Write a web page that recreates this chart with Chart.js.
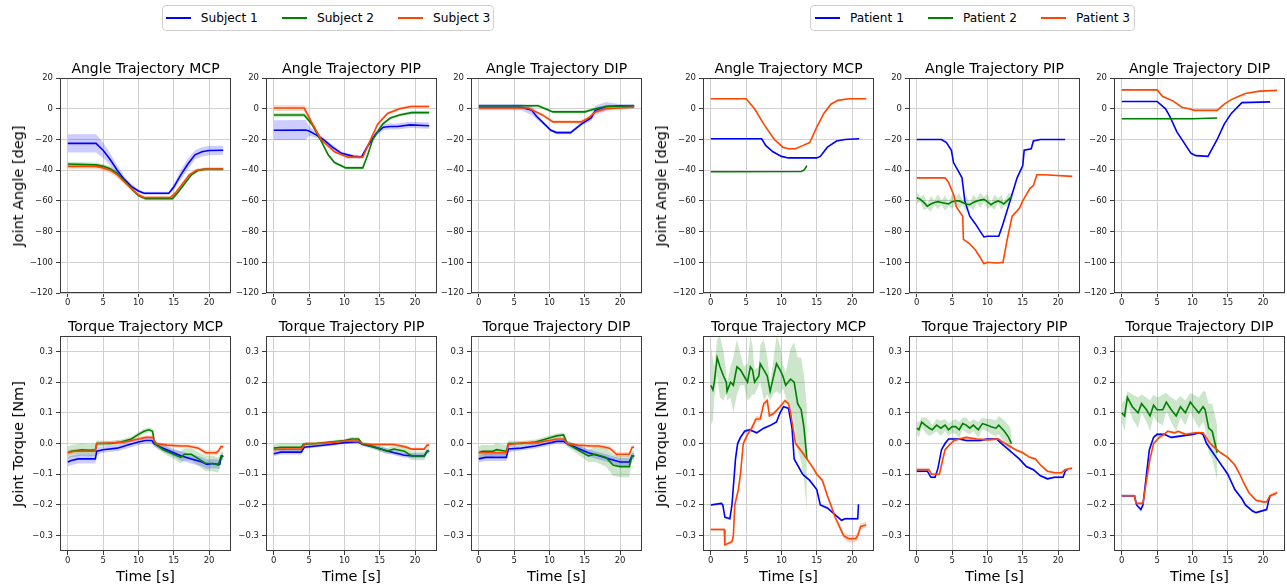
<!DOCTYPE html>
<html>
<head>
<meta charset="utf-8">
<script src="https://cdn.jsdelivr.net/npm/chart.js@4.4.0/dist/chart.umd.min.js"></script>
<style>
  body { margin: 0; background: #fff; width: 1287px; height: 585px; overflow: hidden; position: relative; font-family: "DejaVu Sans", sans-serif; }
  .plot { position: absolute; }
  .title { position: absolute; font-size: 14px; color: #000; white-space: nowrap; transform: translate(-50%, -50%); }
  .ylabel { position: absolute; font-size: 14.5px; color: #000; white-space: nowrap; transform: translate(-50%, -50%) rotate(-90deg); }
  .xlabel { position: absolute; font-size: 14.5px; color: #000; white-space: nowrap; transform: translate(-50%, -50%); }
  .legend { position: absolute; top: 5px; height: 26px; border: 1px solid #d0d0d0; border-radius: 4px; box-sizing: border-box; display: flex; align-items: center; justify-content: center; font-size: 12.2px; white-space: nowrap; }
  .legend span.swatch { display: inline-block; width: 25px; height: 2px; margin-right: 10px; }
  .legend span.lab { margin-right: 24px; }
  .legend span.lab:last-child { margin-right: 0; }
</style>
</head>
<body>
<div id="root"></div>
<script>
const timeTicks = [0, 5, 10, 15, 20];
const angleTicks = [-120, -100, -80, -60, -40, -20, 0, 20];
const torqueTicks = [-0.3, -0.2, -0.1, 0.0, 0.1, 0.2, 0.3];
const groupNames = [['Subject 1', 'Subject 2', 'Subject 3'], ['Patient 1', 'Patient 2', 'Patient 3']];
const jointNames = ['MCP', 'PIP', 'DIP'];
const lineColors = ['#0000ff', '#008000', '#ff4500'];
const bandColors = ['rgba(0,0,255,0.2)', 'rgba(0,128,0,0.2)', 'rgba(255,69,0,0.2)'];

// points are [time, mean, spread]
const subjAngleMcp1 = [[0,-22.5,6],[4,-22.5,6],[5,-27,5],[6,-33,4],[7,-40,3],[8,-46,2],[9,-50.5,1.5],[10,-53.5,1],[10.8,-55,1],[14.3,-55,1],[15,-51,2],[16,-43,3],[17,-36,3.5],[18,-30,3],[19,-28,3],[20,-27.2,3],[22,-27,3]];
const subjAngleMcp2 = [[0,-36,1.5],[4,-36.5,1.5],[5,-37.5,1.5],[6,-39,1.5],[7,-42,1.5],[8,-47,1.5],[9,-52,1],[10,-56.5,1],[11,-58.5,1],[14.8,-58.5,1],[15.5,-55,1],[16.5,-49,1],[17.5,-43,1],[18.5,-40,1],[19.5,-39.3,1],[22,-39.3,1]];
const subjAngleMcp3 = [[0,-37.5,1.5],[4,-37.5,1.5],[5,-38.5,2],[6,-40,2],[7,-43,2],[8,-47.5,1.5],[9,-52,1],[10,-56,1],[10.8,-57.8,1],[14.5,-57.8,1],[15.2,-55,1],[16.2,-49,1],[17.2,-43,1],[18.2,-40,1],[19.5,-39.3,1],[22,-39.3,1]];

const subjAnglePip1 = [[0,-14,6.5],[4.5,-13.8,6.5],[5,-14.5,3],[6,-17,2],[7,-20,1.5],[8.3,-25,1.5],[9.6,-29,1],[11.3,-31,1],[12.4,-31.5,1],[13.2,-25,1.5],[14.5,-16,2],[15.5,-12,2],[16.5,-11.5,2],[17.5,-11.5,2],[19.3,-10.5,2],[22,-11,2]];
const subjAnglePip2 = [[0,-4,1.5],[4.3,-4,1.5],[5.4,-10,1.5],[6.6,-20,1.5],[7.7,-30,1],[8.6,-35,1],[10.2,-38.5,1],[12.6,-38.5,1],[13.3,-30,1],[14,-20,1],[15.4,-10,1],[16.5,-6,1],[17.8,-4,1],[19.5,-2.5,1],[22,-2.5,1]];
const subjAnglePip3 = [[0,0.5,2],[4.3,0.5,2],[5.5,-10,1.5],[6.7,-20,1.5],[8.6,-28,1],[10.5,-31.5,1],[12.6,-31.5,1],[13.7,-20,1],[14.7,-10,1],[16.1,-3,1],[17.8,0,1],[19.4,1.5,1],[22,1.5,1]];

const subjAngleDip1 = [[0,1,2],[6,1,2],[7.5,-1,3],[8.2,-5,2],[9.3,-10,1],[10.2,-14,1],[11,-15.5,1],[13,-15.5,1],[14.5,-10,1],[15.9,-6,2],[16.5,-1,3],[18,1.5,3],[20,2,1],[22,2,1]];
const subjAngleDip2 = [[0,2,1],[8.4,2,1],[10.5,-2,1],[15,-2,1],[16.5,0,1],[18,1.5,1],[22,2,1]];
const subjAngleDip3 = [[0,0.5,1],[7,0.5,1],[9,-4,1],[10.5,-8.5,1],[14.5,-8.5,1],[15.5,-6,1],[16.5,-2,1],[18,0,1],[22,1,1]];

const patAngleMcp1 = [[0,-19.5,0.3],[7.2,-19.5,0.3],[7.8,-24,0.3],[8.8,-28,0.3],[10,-31,0.3],[11,-32,0.3],[15,-32,0.3],[15.5,-31,0.3],[16.5,-25,0.3],[17.8,-21,0.3],[19,-20,0.3],[21,-19.5,0.3]];
const patAngleMcp2 = [[0,-41,0.3],[12.8,-40.8,0.3],[13.2,-40,0.5],[13.6,-37,1]];
const patAngleMcp3 = [[0,6.5,0.3],[5,6.5,0.3],[6.2,0,0.3],[7.5,-10,0.3],[9,-20,0.3],[10.2,-25,0.3],[11,-26,0.3],[12,-26,0.3],[13,-24,0.3],[14,-22,0.3],[15,-12,0.3],[16,-3,0.3],[17,3,0.3],[18,5.5,0.3],[19.5,6.5,0.3],[22,6.5,0.3]];

const patAnglePip1 = [[0,-20,0.3],[3.5,-20,0.3],[4.2,-22,0.3],[4.9,-27,0.3],[5.2,-35,0.3],[5.8,-40,0.3],[6.4,-45,0.3],[6.8,-60,0.3],[7.5,-70,0.3],[8.3,-75,0.3],[9,-80,0.3],[9.5,-83.5,0.3],[10,-83,0.3],[11.6,-83,0.3],[12.2,-75,0.3],[13.2,-60,0.3],[14.2,-45,0.3],[15,-37,0.3],[15.2,-27,0.3],[16.2,-26,0.3],[16.5,-21,0.3],[17.5,-20,0.3],[21,-20,0.3]];
const patAnglePip2 = [[0,-58,4],[0.5,-59,1.5],[1,-61,5],[1.5,-63.5,1.5],[2,-62,5],[2.5,-61,1.5],[3,-60.5,5],[3.5,-61,1.5],[4,-61.5,5],[4.5,-62,1.5],[5,-60.5,5],[5.5,-60,1.5],[6,-60,5],[6.5,-61,1.5],[7,-62,5],[7.5,-62.5,1.5],[8,-61,5],[8.5,-60,1.5],[9,-59.5,5],[9.5,-59,1.5],[10,-60.5,5],[10.5,-62.5,1.5],[11,-61,5],[11.5,-60,1.5],[12,-61,5],[12.3,-62,1.5],[13,-59,4],[13.5,-57,2]];
const patAnglePip3 = [[0,-45,0.3],[4,-45,0.3],[4.5,-48,0.3],[5.3,-57,0.3],[5.6,-64,0.3],[6.5,-70,0.3],[6.6,-85,0.3],[7.5,-88,0.3],[8.3,-92,0.3],[9,-97,0.3],[9.5,-101,0.3],[10,-100,0.3],[11.5,-100.5,0.3],[12.2,-100,0.3],[12.8,-85,0.3],[13.5,-70,0.3],[14.5,-65,0.3],[15,-60,0.3],[16,-52,0.3],[16.5,-50,0.3],[17,-43,0.3],[18,-43,0.3],[22,-44,0.3]];

const patAngleDip1 = [[0,4.8,0.3],[5,4.8,0.3],[6.2,0,0.3],[6.8,-5,0.3],[7.8,-15,0.3],[8.8,-22,0.3],[9.8,-29,0.3],[10.5,-30.5,0.3],[12.2,-31,0.3],[13.5,-20,0.3],[14.5,-10,0.3],[15.5,-3,0.3],[17,4,0.3],[21,4.5,0.3]];
const patAngleDip2 = [[0,-6.5,0.3],[10,-6.5,0.3],[13.5,-6,0.3]];
const patAngleDip3 = [[0,12.3,0.3],[5,12.3,0.3],[5.8,8,0.3],[7.3,5,0.3],[8.5,1,0.3],[9.5,0,0.3],[10.3,-1,0.3],[13.5,-1,0.3],[14.5,3,0.3],[15.5,6,0.3],[16.5,8,0.3],[17.5,10,0.3],[19.5,11.5,0.3],[22,12,0.3]];

const subjTorqueMcp1 = [[0,-0.06,0.015],[0.5,-0.055,0.015],[1.5,-0.05,0.015],[3.9,-0.05,0.015],[4.1,-0.025,0.012],[5,-0.02,0.01],[7,-0.015,0.01],[8.5,-0.005,0.01],[10,0.005,0.01],[11,0.01,0.01],[11.9,0.01,0.01],[12.2,0,0.01],[13,-0.01,0.01],[14,-0.02,0.012],[15,-0.03,0.012],[16,-0.04,0.015],[17.5,-0.05,0.015],[19,-0.06,0.015],[19.7,-0.068,0.015],[20.5,-0.065,0.015],[21.5,-0.068,0.015],[21.7,-0.045,0.01],[22,-0.04,0.01]];
const subjTorqueMcp2 = [[0,-0.03,0.02],[0.5,-0.025,0.02],[2,-0.02,0.02],[3,-0.022,0.02],[3.9,-0.02,0.02],[4.1,0,0.01],[6,0,0.008],[7.5,0.005,0.008],[9,0.015,0.008],[10,0.03,0.008],[10.8,0.04,0.008],[11.5,0.045,0.008],[12,0.04,0.008],[12.3,0,0.01],[13.5,-0.02,0.012],[15,-0.035,0.015],[16,-0.045,0.02],[16.5,-0.035,0.02],[17.5,-0.035,0.02],[18.5,-0.05,0.022],[19.5,-0.065,0.025],[20.5,-0.065,0.025],[21.3,-0.07,0.025],[21.7,-0.04,0.015],[22,-0.04,0.015]];
const subjTorqueMcp3 = [[0,-0.03,0.008],[1,-0.025,0.008],[3.9,-0.025,0.008],[4.1,0,0.006],[6,0.002,0.006],[8,0.005,0.006],[10,0.015,0.006],[11,0.02,0.006],[12,0.02,0.006],[12.5,0,0.006],[14,-0.005,0.006],[16,-0.008,0.006],[17,-0.008,0.006],[18.5,-0.015,0.006],[19.5,-0.03,0.008],[21,-0.03,0.008],[21.3,-0.025,0.008],[21.7,-0.01,0.006],[22,-0.01,0.006]];

const subjTorquePip1 = [[0,-0.033,0.008],[1,-0.028,0.008],[3.9,-0.028,0.008],[4.3,-0.012,0.006],[6,-0.008,0.005],[8,-0.003,0.005],[10,0.003,0.005],[11.5,0.005,0.005],[12,0.005,0.005],[12.5,-0.002,0.005],[14,-0.01,0.006],[15.5,-0.02,0.008],[17,-0.03,0.008],[18.5,-0.038,0.008],[20,-0.04,0.008],[21.3,-0.04,0.008],[21.7,-0.025,0.006],[22,-0.025,0.006]];
const subjTorquePip2 = [[0,-0.015,0.012],[1,-0.012,0.012],[3.9,-0.012,0.012],[4.2,-0.002,0.006],[6,0,0.005],[8,0.005,0.005],[10,0.01,0.005],[11,0.015,0.006],[12,0.015,0.006],[12.5,0,0.006],[14,-0.01,0.008],[15.5,-0.02,0.01],[16,-0.025,0.01],[17,-0.018,0.012],[18.5,-0.025,0.012],[19.5,-0.04,0.014],[21.3,-0.04,0.014],[21.7,-0.025,0.01],[22,-0.025,0.01]];
const subjTorquePip3 = [[0,-0.02,0.005],[1,-0.018,0.005],[3.9,-0.018,0.005],[4.5,0,0.004],[6,0,0.004],[8,0.003,0.004],[10,0.008,0.004],[12,0.008,0.004],[12.5,0,0.004],[14,-0.003,0.004],[17,-0.003,0.004],[18.5,-0.01,0.005],[19.5,-0.018,0.005],[21.3,-0.018,0.005],[21.7,-0.005,0.004],[22,-0.005,0.004]];

const subjTorqueDip1 = [[0,-0.05,0.012],[1,-0.045,0.012],[3.9,-0.045,0.012],[4.2,-0.018,0.01],[6,-0.015,0.008],[8,-0.008,0.008],[10,0.002,0.008],[11,0.007,0.008],[12,0.007,0.008],[12.5,0,0.008],[14,-0.015,0.01],[15.5,-0.03,0.012],[17,-0.04,0.012],[18.5,-0.05,0.012],[20,-0.06,0.012],[21.3,-0.06,0.012],[21.7,-0.04,0.01],[22,-0.04,0.01]];
const subjTorqueDip2 = [[0,-0.03,0.02],[0.5,-0.025,0.02],[2,-0.025,0.02],[2.5,-0.02,0.02],[3.9,-0.025,0.02],[4.2,0,0.01],[6,0,0.008],[8,0.005,0.008],[9.5,0.015,0.008],[11,0.025,0.008],[12,0.028,0.008],[12.5,0,0.01],[14,-0.02,0.015],[15.5,-0.04,0.02],[16.5,-0.035,0.025],[18,-0.045,0.03],[19,-0.07,0.035],[20,-0.075,0.035],[21.3,-0.075,0.035],[21.7,-0.04,0.015],[22,-0.04,0.015]];
const subjTorqueDip3 = [[0,-0.03,0.008],[3.9,-0.03,0.008],[4.2,-0.003,0.006],[6,0.002,0.006],[8,0.003,0.006],[10,0.01,0.006],[11,0.015,0.006],[12,0.015,0.006],[12.5,0,0.006],[14,-0.005,0.006],[16,-0.008,0.006],[17,-0.008,0.006],[18.5,-0.015,0.008],[19.5,-0.035,0.008],[21.3,-0.035,0.008],[21.7,-0.012,0.006],[22,-0.012,0.006]];

const patTorqueMcp1 = [[0,-0.2,0.004],[1.5,-0.195,0.004],[1.7,-0.2,0.004],[2,-0.24,0.004],[2.7,-0.245,0.004],[3,-0.2,0.004],[3.5,-0.05,0.006],[3.8,0,0.008],[4.2,0.02,0.006],[4.8,0.04,0.006],[5.5,0.045,0.004],[6.5,0.035,0.004],[7.5,0.05,0.004],[8.5,0.06,0.004],[9.3,0.07,0.004],[9.8,0.1,0.004],[10.3,0.12,0.004],[11,0.115,0.004],[11.5,0.05,0.004],[11.8,-0.05,0.004],[13,-0.1,0.004],[14,-0.12,0.004],[15,-0.15,0.004],[15.5,-0.2,0.004],[16.5,-0.21,0.004],[17.5,-0.23,0.004],[18.5,-0.25,0.004],[19,-0.245,0.004],[20.8,-0.245,0.004],[20.9,-0.2,0.004],[21,-0.2,0.004]];
const patTorqueMcp2 = [[0,0.19,0.13],[0.3,0.175,0.1],[0.5,0.2,0.05],[0.9,0.28,0.06],[1.3,0.25,0.1],[1.8,0.22,0.08],[2.2,0.2,0.03],[2.3,0.17,0.03],[2.8,0.2,0.05],[3.2,0.19,0.09],[3.7,0.25,0.09],[4.2,0.24,0.05],[4.7,0.22,0.03],[5.2,0.2,0.06],[5.6,0.25,0.1],[5.9,0.24,0.08],[6.2,0.2,0.04],[6.8,0.22,0.03],[7,0.26,0.06],[7.5,0.24,0.1],[8,0.22,0.06],[8.4,0.17,0.03],[8.8,0.21,0.05],[9.3,0.26,0.09],[9.8,0.24,0.08],[10.2,0.22,0.04],[10.6,0.19,0.04],[11.3,0.21,0.1],[11.8,0.2,0.13],[12.3,0.13,0.15],[12.8,0.11,0.17],[13.2,0.05,0.17],[13.6,-0.05,0.17]];
const patTorqueMcp3 = [[0,-0.28,0.005],[1.9,-0.28,0.005],[2,-0.33,0.005],[3,-0.32,0.005],[3.2,-0.3,0.005],[3.4,-0.2,0.005],[3.9,-0.15,0.005],[4.2,-0.1,0.005],[4.6,0,0.008],[5.2,0.03,0.008],[5.8,0.05,0.01],[6.4,0.08,0.01],[7,0.08,0.01],[7.5,0.13,0.01],[8,0.14,0.01],[8.3,0.09,0.008],[9,0.1,0.006],[9.8,0.12,0.006],[10.5,0.14,0.006],[11,0.13,0.006],[11.3,0.1,0.006],[12,0,0.006],[13,-0.03,0.006],[14.5,-0.08,0.006],[15,-0.1,0.006],[15.8,-0.12,0.006],[16.5,-0.17,0.006],[17,-0.2,0.006],[17.6,-0.24,0.006],[18.2,-0.27,0.008],[18.8,-0.3,0.01],[19.5,-0.31,0.012],[20.5,-0.31,0.012],[20.8,-0.3,0.012],[21.2,-0.27,0.012],[22,-0.265,0.01]];

const patTorquePip1 = [[0,-0.09,0.004],[1.5,-0.09,0.004],[2,-0.11,0.004],[2.6,-0.11,0.004],[3,-0.08,0.004],[3.5,-0.02,0.006],[4,0,0.006],[4.5,0.015,0.004],[6,0.015,0.004],[7,0.01,0.004],[9,0.01,0.004],[10,0.015,0.004],[11.3,0.015,0.004],[12,0,0.004],[13.5,-0.03,0.004],[14.5,-0.05,0.004],[15.5,-0.075,0.004],[16.5,-0.085,0.004],[17.5,-0.105,0.004],[18.5,-0.115,0.004],[19.5,-0.11,0.004],[20.7,-0.11,0.004],[21,-0.09,0.004],[21.3,-0.085,0.004]];
const patTorquePip2 = [[0,0.05,0.02],[0.3,0.045,0.025],[0.7,0.07,0.015],[1.2,0.06,0.025],[1.8,0.05,0.025],[2.2,0.045,0.015],[2.8,0.06,0.02],[3.4,0.05,0.025],[4,0.06,0.02],[4.5,0.045,0.02],[5,0.055,0.02],[5.5,0.055,0.025],[6,0.045,0.025],[6.5,0.065,0.02],[7,0.06,0.025],[7.5,0.05,0.02],[8,0.06,0.02],[8.7,0.045,0.025],[9.3,0.065,0.02],[10,0.06,0.02],[10.5,0.055,0.025],[11.2,0.05,0.025],[11.6,0.06,0.03],[12.4,0.04,0.035],[13,0.02,0.04],[13.4,0,0.04]];
const patTorquePip3 = [[0,-0.085,0.004],[1.7,-0.085,0.004],[2.1,-0.1,0.004],[3.2,-0.1,0.004],[3.6,-0.06,0.004],[4,-0.02,0.004],[4.8,0,0.004],[5.3,0.01,0.004],[6,0.015,0.004],[7,0.02,0.004],[8.5,0.015,0.004],[10,0.012,0.004],[11.5,0.015,0.004],[12.5,0,0.004],[14,-0.02,0.004],[15,-0.03,0.004],[16,-0.045,0.004],[16.8,-0.05,0.004],[17.5,-0.07,0.004],[18.5,-0.09,0.004],[19.5,-0.095,0.004],[20.5,-0.095,0.004],[21,-0.085,0.004],[22,-0.08,0.004]];

const patTorqueDip1 = [[0,-0.17,0.004],[1.8,-0.17,0.004],[2.1,-0.2,0.004],[2.7,-0.215,0.006],[3,-0.2,0.006],[3.5,-0.1,0.008],[3.9,-0.02,0.008],[4.5,0.02,0.006],[5,0.03,0.004],[6,0.03,0.004],[7,0.02,0.004],[8.5,0.025,0.004],[10,0.03,0.004],[11,0.035,0.004],[11.5,0.03,0.004],[12,0,0.004],[13.5,-0.05,0.004],[15,-0.1,0.004],[16,-0.15,0.004],[17,-0.18,0.004],[17.5,-0.2,0.004],[18.5,-0.22,0.004],[19,-0.225,0.004],[20.5,-0.215,0.004],[20.8,-0.185,0.004],[21,-0.17,0.004]];
const patTorqueDip2 = [[0,0.1,0.03],[0.4,0.09,0.05],[0.8,0.15,0.02],[1.5,0.12,0.04],[2.3,0.1,0.05],[2.8,0.13,0.03],[3.5,0.11,0.04],[4,0.09,0.05],[4.5,0.125,0.035],[5,0.11,0.04],[5.8,0.11,0.05],[6.3,0.135,0.03],[7,0.11,0.04],[7.7,0.09,0.05],[8.3,0.12,0.035],[9,0.1,0.04],[9.7,0.135,0.03],[10.2,0.12,0.04],[10.9,0.1,0.05],[11.5,0.12,0.05],[11.8,0.11,0.06],[12.3,0.05,0.08],[12.8,0.04,0.09],[13.5,-0.03,0.09]];
const patTorqueDip3 = [[0,-0.17,0.004],[1.8,-0.17,0.004],[2,-0.195,0.004],[3,-0.195,0.004],[3.5,-0.12,0.004],[4,-0.05,0.004],[4.5,0,0.004],[5.3,0.02,0.004],[6,0.03,0.004],[6.5,0.04,0.004],[7.5,0.035,0.004],[8,0.04,0.004],[9,0.03,0.004],[10.5,0.035,0.004],[11.5,0.035,0.004],[12.5,0,0.004],[14,-0.03,0.004],[15,-0.045,0.004],[16,-0.07,0.004],[16.7,-0.1,0.004],[17.3,-0.13,0.004],[18,-0.16,0.004],[19,-0.185,0.004],[20,-0.19,0.004],[20.5,-0.19,0.004],[21,-0.17,0.006],[22,-0.16,0.008]];

const panels = [
  { group: 0, row: 0, joint: 0, series: [subjAngleMcp1, subjAngleMcp2, subjAngleMcp3] },
  { group: 0, row: 0, joint: 1, series: [subjAnglePip1, subjAnglePip2, subjAnglePip3] },
  { group: 0, row: 0, joint: 2, series: [subjAngleDip1, subjAngleDip2, subjAngleDip3] },
  { group: 1, row: 0, joint: 0, series: [patAngleMcp1, patAngleMcp2, patAngleMcp3] },
  { group: 1, row: 0, joint: 1, series: [patAnglePip1, patAnglePip2, patAnglePip3] },
  { group: 1, row: 0, joint: 2, series: [patAngleDip1, patAngleDip2, patAngleDip3] },
  { group: 0, row: 1, joint: 0, series: [subjTorqueMcp1, subjTorqueMcp2, subjTorqueMcp3] },
  { group: 0, row: 1, joint: 1, series: [subjTorquePip1, subjTorquePip2, subjTorquePip3] },
  { group: 0, row: 1, joint: 2, series: [subjTorqueDip1, subjTorqueDip2, subjTorqueDip3] },
  { group: 1, row: 1, joint: 0, series: [patTorqueMcp1, patTorqueMcp2, patTorqueMcp3] },
  { group: 1, row: 1, joint: 1, series: [patTorquePip1, patTorquePip2, patTorquePip3] },
  { group: 1, row: 1, joint: 2, series: [patTorqueDip1, patTorqueDip2, patTorqueDip3] }
];

// layout of the plot frames
const groupLeft = [60, 703];
const colStep = 205.5;
const frameW = 171;
const frameH = 215;
const rowTop = [78, 336];
const padL = 45, padT = 8, padR = 8, padB = 20;

const root = document.getElementById('root');

const framePlugin = {
  id: 'frame',
  afterDraw(chart) {
    const a = chart.chartArea;
    const ctx = chart.ctx;
    ctx.save();
    ctx.strokeStyle = '#3a3a3a';
    ctx.lineWidth = 1;
    ctx.strokeRect(Math.round(a.left) + 0.5, Math.round(a.top) + 0.5, Math.round(a.right - a.left) - 1, Math.round(a.bottom - a.top) - 1);
    ctx.restore();
  }
};

const fmtTick = (v, isTorque) => {
  const s = isTorque ? Math.abs(v).toFixed(1) : String(Math.abs(v));
  return (v < -1e-9 ? '\u2212' : '') + s;
};

const addText = (cls, text, x, y) => {
  const d = document.createElement('div');
  d.className = cls;
  d.textContent = text;
  d.style.left = x + 'px';
  d.style.top = y + 'px';
  root.appendChild(d);
};

panels.forEach(p => {
  const left = Math.round(groupLeft[p.group] + p.joint * colStep);
  const top = rowTop[p.row];
  const isTorque = p.row === 1;

  const wrap = document.createElement('div');
  wrap.className = 'plot';
  wrap.style.left = (left - padL) + 'px';
  wrap.style.top = (top - padT) + 'px';
  const canvas = document.createElement('canvas');
  canvas.width = frameW + padL + padR;
  canvas.height = frameH + padT + padB;
  wrap.appendChild(canvas);
  root.appendChild(wrap);

  const title = (isTorque ? 'Torque' : 'Angle') + ' Trajectory ' + jointNames[p.joint];
  addText('title', title, left + frameW / 2, top - 10);
  if (p.joint === 0) {
    addText('ylabel', isTorque ? 'Joint Torque [Nm]' : 'Joint Angle [deg]', left - 42, top + frameH / 2);
  }
  if (isTorque) {
    addText('xlabel', 'Time [s]', left + frameW / 2, 576);
  }

  const datasets = [];
  // bands first (drawn underneath), then lines
  p.series.forEach((s, i) => {
    datasets.push({
      label: 'band-hi-' + i,
      data: s.map(pt => ({ x: pt[0], y: pt[1] + pt[2] })),
      borderWidth: 0,
      pointRadius: 0,
      backgroundColor: bandColors[i],
      fill: '+1',
      order: 10 + i
    });
    datasets.push({
      label: 'band-lo-' + i,
      data: s.map(pt => ({ x: pt[0], y: pt[1] - pt[2] })),
      borderWidth: 0,
      pointRadius: 0,
      fill: false,
      order: 10 + i
    });
  });
  p.series.forEach((s, i) => {
    datasets.push({
      label: groupNames[p.group][i],
      data: s.map(pt => ({ x: pt[0], y: pt[1] })),
      borderColor: lineColors[i],
      borderWidth: 1.6,
      pointRadius: 0,
      fill: false,
      order: 3 - i
    });
  });

  const yTicks = isTorque ? torqueTicks : angleTicks;

  new Chart(canvas.getContext('2d'), {
    type: 'line',
    data: { datasets },
    options: {
      responsive: false,
      animation: false,
      devicePixelRatio: 1,
      layout: { padding: { left: 0, top: padT, right: padR, bottom: 0 } },
      plugins: { legend: { display: false }, tooltip: { enabled: false }, title: { display: false } },
      elements: { line: { tension: 0 } },
      scales: {
        x: {
          type: 'linear',
          min: -1.1,
          max: 23.1,
          afterBuildTicks: scale => { scale.ticks = timeTicks.map(v => ({ value: v })); },
          afterFit: scale => { scale.height = padB; },
          ticks: { color: '#222', font: { family: 'DejaVu Sans', size: 8.5 }, padding: 1, maxRotation: 0, autoSkip: false },
          grid: { color: '#d0d0d0', lineWidth: 1, tickColor: '#3a3a3a', tickLength: 4 },
          border: { display: false }
        },
        y: {
          type: 'linear',
          min: isTorque ? -0.35 : -120,
          max: isTorque ? 0.35 : 20,
          afterBuildTicks: scale => { scale.ticks = yTicks.map(v => ({ value: v })); },
          afterFit: scale => { scale.width = padL; },
          ticks: { color: '#222', font: { family: 'DejaVu Sans', size: 8.5 }, padding: 3, autoSkip: false, callback: v => fmtTick(v, isTorque) },
          grid: { color: '#d0d0d0', lineWidth: 1, tickColor: '#3a3a3a', tickLength: 4 },
          border: { display: false }
        }
      }
    },
    plugins: [framePlugin]
  });
});

// legends
[[162, 332], [810, 325]].forEach((box, g) => {
  const lg = document.createElement('div');
  lg.className = 'legend';
  lg.style.left = box[0] + 'px';
  lg.style.width = box[1] + 'px';
  groupNames[g].forEach((name, i) => {
    const sw = document.createElement('span');
    sw.className = 'swatch';
    sw.style.background = lineColors[i];
    const lab = document.createElement('span');
    lab.className = 'lab';
    lab.textContent = name;
    lg.appendChild(sw);
    lg.appendChild(lab);
  });
  root.appendChild(lg);
});
</script>
</body>
</html>
